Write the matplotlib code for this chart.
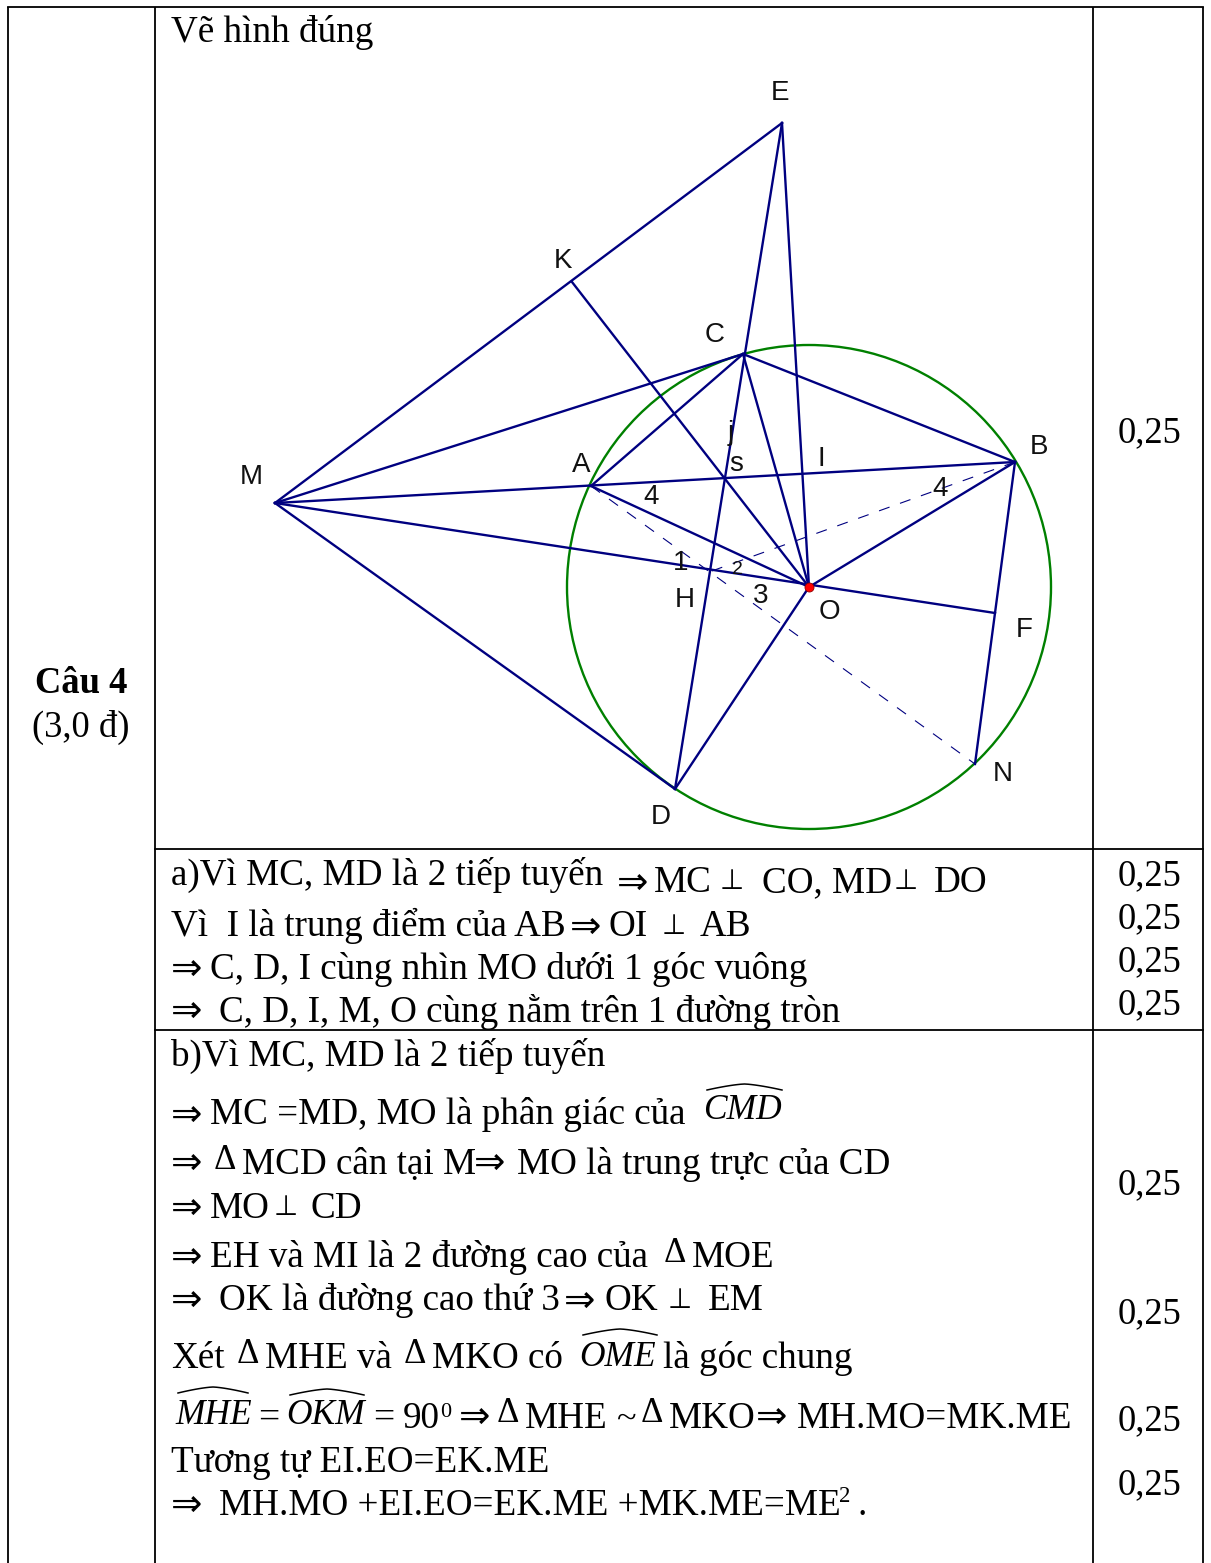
import matplotlib
matplotlib.use("Agg")
import matplotlib.pyplot as plt
from matplotlib.patches import Circle
import numpy as np

W, H = 1211, 1563
SERIF = ['Liberation Serif', 'DejaVu Serif']
SANS = ['Liberation Sans', 'DejaVu Sans']
NAVY = '#000080'
GREEN = '#008000'
FS = 26.7
FS_SCORE = 26.3

points = {'M': (275, 503), 'E': (782, 123), 'K': (572, 282), 'C': (743, 354),
          'A': (591, 486), 'B': (1015, 462), 'O': (809, 587), 'D': (675, 789),
          'H': (709, 572), 'F': (995, 613), 'N': (975, 764)}
solid_segments = ['ME', 'MC', 'MD', 'MB', 'MF', 'ED', 'CO', 'CA', 'CB', 'EO',
                  'KO', 'AO', 'BO', 'DO', 'BN']
dashed_segments = ['AN', 'BH']
circle_radius = 242

point_labels = [('E', 780, 93, 20), ('K', 563, 261, 20), ('C', 715, 335, 20), ('j', 731, 433, 20),
                ('s', 736, 464, 20), ('I', 821, 459, 20), ('A', 581, 465, 20), ('B', 1039, 447, 20),
                ('M', 251, 477, 20), ('4', 651, 497, 20), ('4', 940, 489, 20), ('1', 681, 563, 20),
                ('2', 737, 570, 14), ('3', 761, 596, 20), ('H', 685, 600, 20), ('O', 829, 612, 20),
                ('F', 1024, 630, 20), ('N', 1003, 774, 20), ('D', 661, 817, 20)]

score_values = ['0,25'] * 9
score_baselines = [442, 885, 928, 971, 1014, 1194, 1323, 1430, 1494]

# (x, baseline, text)
body_text = [
    (171, 42, 'Vẽ hình đúng'),
    (171, 885, 'a)Vì MC, MD là 2 tiếp tuyến'), (654, 892, 'MC'), (762, 892, 'CO, MD'), (934, 892, 'DO'),
    (171, 936, 'Vì  I là trung điểm của AB'), (609, 936, 'OI'), (700, 936, 'AB'),
    (210, 979, 'C, D, I cùng nhìn MO dưới 1 góc vuông'),
    (219, 1022, 'C, D, I, M, O cùng nằm trên 1 đường tròn'),
    (171, 1066, 'b)Vì MC, MD là 2 tiếp tuyến'),
    (210, 1124, 'MC =MD, MO là phân giác của'),
    (242, 1174, 'MCD cân tại M'), (517, 1174, 'MO là trung trực của CD'),
    (210, 1218, 'MO'), (311, 1218, 'CD'),
    (210, 1267, 'EH và MI là 2 đường cao của'), (692, 1267, 'MOE'),
    (219, 1310, 'OK là đường cao thứ 3'), (604, 1310, 'OK'), (708, 1310, 'EM'),
    (171, 1368, 'Xét'), (265, 1368, 'MHE và'), (432, 1368, 'MKO có'), (663, 1368, 'là góc chung'),
    (403, 1428, '90'), (525, 1428, 'MHE'), (669, 1428, 'MKO'), (797, 1428, 'MH.MO=MK.ME'),
    (171, 1472, 'Tương tự EI.EO=EK.ME'),
    (219, 1515, 'MH.MO +EI.EO=EK.ME +MK.ME=ME'), (857, 1515, '.'),
]
arrow_marks = [(617, 894), (570, 938), (171, 980), (171, 1022), (171, 1126), (171, 1174), (474, 1174),
               (171, 1219), (171, 1268), (171, 1311), (564, 1312), (459, 1428), (756, 1428), (171, 1516)]
perp_marks = [(720, 889), (662, 934), (894, 889), (274, 1215), (668, 1308)]
delta_marks = [(214, 1169), (664, 1262), (237, 1363), (404, 1363), (497, 1422), (641, 1422)]
italic_hats = [(703, 1119, 'CMD', 707, 782, 1090), (579, 1366, 'OME', 583, 657, 1335),
               (175, 1424, 'MHE', 178, 248, 1393), (286, 1424, 'OKM', 290, 364, 1395)]
small_marks = [(258, 1428, '=', 27), (373, 1428, '=', 27), (617, 1428, '~', 26)]
sup_marks = [(440, 1417, '0', 16), (839, 1502, '2', 16.5)]

fig = plt.figure(figsize=(W / 100, H / 100), dpi=100)
ax = fig.add_axes([0, 0, 1, 1])
ax.set_xlim(0, W)
ax.set_ylim(H, 0)
ax.axis('off')

# table rules
for x in (8, 155, 1093, 1203):
    ax.plot([x, x], [7, H], color='black', lw=1.3, solid_capstyle='butt')
ax.plot([8, 1203], [7, 7], color='black', lw=1.3)
for y in (849, 1030):
    ax.plot([155, 1203], [y, y], color='black', lw=1.3)

# figure
O = points['O']
ax.add_patch(Circle(O, circle_radius, fill=False, ec=GREEN, lw=1.7))
for s in solid_segments:
    a, b = points[s[0]], points[s[1]]
    ax.plot([a[0], b[0]], [a[1], b[1]], color=NAVY, lw=1.7)
for s in dashed_segments:
    a, b = points[s[0]], points[s[1]]
    ax.plot([a[0], b[0]], [a[1], b[1]], color=NAVY, lw=0.8, dashes=(10, 10))
ax.plot(*O, 'o', ms=6.5, mfc='#ff0000', mec='#900000', mew=0.6)
for t, x, y, fs in point_labels:
    ax.text(x, y, t, family=SANS, fontsize=fs, ha='center', va='center', color='#111111')

def put(x, y, t, **kw):
    kw.setdefault('fontsize', FS)
    ax.text(x, y, t, family=SERIF, ha='left', va='baseline', color='black', **kw)

for x, y, t in body_text:
    put(x, y, t)
for x, y in arrow_marks:
    ax.text(x, y, '⇒', family=['DejaVu Sans'], fontsize=27, ha='left', va='baseline', color='black')
for x, y in perp_marks:
    ax.text(x, y, '⊥', family=['DejaVu Sans'], fontsize=20, ha='left', va='baseline', color='black')
for x, y in delta_marks:
    put(x, y, 'Δ', fontsize=25)
for x, y, t, x0, x1, ye in italic_hats:
    put(x, y, t, style='italic', fontsize=25.5)
    u = np.linspace(-1, 1, 21)
    ax.plot((x0 + x1) / 2 + u * (x1 - x0) / 2, ye - 6 * (1 - np.abs(u) ** 1.4), color='black', lw=1.1)
for x, y, t, fs in small_marks:
    put(x, y, t, fontsize=fs)
for x, y, t, fs in sup_marks:
    put(x, y, t, fontsize=fs)
for y, t in zip(score_baselines, score_values):
    put(1118, y, t, fontsize=FS_SCORE)
ax.text(81, 693, 'Câu 4', family=SERIF, fontsize=FS_SCORE, weight='bold', ha='center', va='baseline', color='black')
ax.text(81, 737, '(3,0 đ)', family=SERIF, fontsize=FS_SCORE, ha='center', va='baseline', color='black')

fig.savefig('out.png', dpi=100, facecolor='white')
